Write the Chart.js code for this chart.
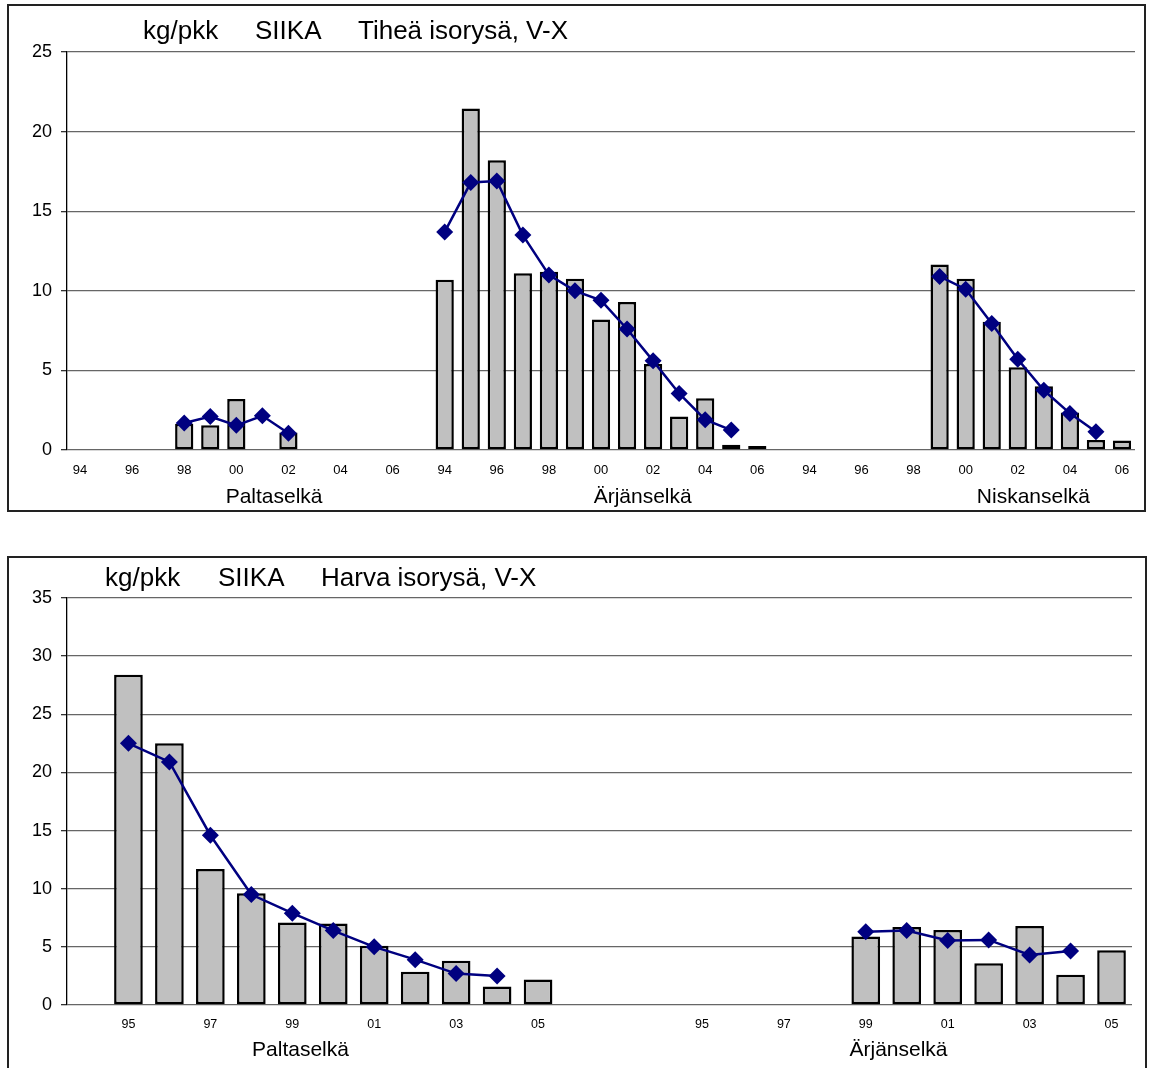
<!DOCTYPE html>
<html>
<head>
<meta charset="utf-8">
<script src="https://cdn.jsdelivr.net/npm/chart.js@4.4.1/dist/chart.umd.min.js"></script>
<style>
  body { margin: 0; background: #fff; overflow: hidden; width: 1151px; height: 1068px; position: relative;
         font-family: 'Liberation Sans', Arial, sans-serif; }
  .box { position: absolute; border: 2px solid #222; background: #fff; }
  .box canvas { position: absolute; left: 0; top: 0; }
  .ttl { position: absolute; font-size: 26px; line-height: 30px; color: #000; white-space: nowrap; }
</style>
</head>
<body>

<div class="box" id="box1" style="left:7px; top:4px; width:1135px; height:504px;">
  <canvas id="chart1" width="1135" height="504"></canvas>
</div>
<span class="ttl" style="left:143px; top:15px;">kg/pkk</span>
<span class="ttl" style="left:255px; top:15px;">SIIKA</span>
<span class="ttl" style="left:358px; top:15px;">Tiheä isorysä, V-X</span>

<div class="box" id="box2" style="left:7px; top:556px; width:1136px; height:530px;">
  <canvas id="chart2" width="1136" height="510"></canvas>
</div>
<span class="ttl" style="left:105px; top:562px;">kg/pkk</span>
<span class="ttl" style="left:218px; top:562px;">SIIKA</span>
<span class="ttl" style="left:321px; top:562px;">Harva isorysä, V-X</span>

<script>
// --- data: upper chart (Tiheä isorysä), years 94..06 per area ---
var years = ['94','95','96','97','98','99','00','01','02','03','04','05','06'];
var tickLabels1 = ['94','','96','','98','','00','','02','','04','','06'];
var areas1 = ['Paltaselkä', 'Ärjänselkä', 'Niskanselkä'];

var paltaBars1 = [null, null, null, null, 1.65, 1.55, 3.2, null, 1.1, null, null, null, null];
var paltaLine1 = [null, null, null, null, 1.7, 2.1, 1.55, 2.15, 1.05, null, null, null, null];
var arjaBars1  = [10.7, 21.45, 18.2, 11.1, 11.2, 10.75, 8.2, 9.3, 5.4, 2.1, 3.25, 0.33, 0.25];
var arjaLine1  = [13.7, 16.8, 16.9, 13.5, 11.0, 10.0, 9.4, 7.6, 5.6, 3.55, 1.9, 1.25, null];
var niskaBars1 = [null, null, null, null, null, 11.65, 10.75, 8.05, 5.2, 4.0, 2.35, 0.63, 0.6];
var niskaLine1 = [null, null, null, null, null, 10.9, 10.1, 7.95, 5.7, 3.75, 2.3, 1.15, null];

// --- data: lower chart (Harva isorysä) ---
var tickLabels2a = ['','95','','97','','99','','01','','03','','05',''];
var tickLabels2b = ['','95','','97','','99','','01','','03','','05'];
var areas2 = ['Paltaselkä', 'Ärjänselkä'];

var paltaBars2 = [null, 28.4, 22.5, 11.7, 9.6, 7.1, 7.0, 5.1, 2.85, 3.8, 1.6, 2.2, null];
var paltaLine2 = [null, 22.5, 20.9, 14.6, 9.5, 7.9, 6.4, 5.0, 3.9, 2.7, 2.5, null, null];
var arjaBars2  = [null, null, null, null, null, 5.9, 6.7, 6.45, 3.6, 6.8, 2.6, 4.7];
var arjaLine2  = [null, null, null, null, null, 6.3, 6.4, 5.55, 5.6, 4.3, 4.65, null];

var FONT = "'Liberation Sans', Arial, sans-serif";

// join the area groups with one empty category in between
function joinGroups(groups) {
    var out = [];
    groups.forEach(function(g, i) {
        if (i > 0) out.push(null);
        out = out.concat(g);
    });
    return out;
}
function joinLabels(groups) {
    return joinGroups(groups).map(function(v) { return v === null ? '' : v; });
}

// draws the area names under the year labels
var groupLabelPlugin = {
    id: 'groupLabels',
    afterDraw: function(chart, args, opts) {
        var ctx = chart.ctx;
        var xs = chart.scales.x;
        ctx.save();
        ctx.font = opts.size + 'px ' + FONT;
        ctx.fillStyle = '#000';
        ctx.textAlign = 'center';
        ctx.textBaseline = 'middle';
        opts.names.forEach(function(name, i) {
            var x = xs.getPixelForValue(opts.at[i]);
            ctx.fillText(name, x, opts.y);
        });
        ctx.restore();
    }
};

function makeChart(id, labels, bars, line, yMax, cfg) {
    var ctx = document.getElementById(id).getContext('2d');
    return new Chart(ctx, {
        type: 'bar',
        data: {
            labels: labels,
            datasets: [{
                type: 'line',
                data: line,
                borderColor: '#000080',
                backgroundColor: '#000080',
                borderWidth: 2.5,
                pointStyle: 'rectRot',
                pointRadius: 8.5,
                pointBorderWidth: 0,
                spanGaps: false,
                tension: 0,
                order: 0
            }, {
                type: 'bar',
                data: bars,
                backgroundColor: '#c0c0c0',
                borderColor: '#000',
                borderWidth: 2.5,
                borderSkipped: false,
                categoryPercentage: 1,
                barPercentage: 0.7,
                order: 1
            }]
        },
        options: {
            responsive: false,
            animation: false,
            devicePixelRatio: 1,
            layout: { padding: { top: cfg.padTop, right: cfg.padRight, left: 0, bottom: 0 } },
            plugins: {
                legend: { display: false },
                tooltip: { enabled: false },
                groupLabels: { names: cfg.names, at: cfg.at, y: cfg.groupY, size: 21 }
            },
            scales: {
                x: {
                    grid: { display: false, drawTicks: false },
                    border: { display: false },
                    ticks: {
                        autoSkip: false,
                        maxRotation: 0,
                        padding: cfg.xPad,
                        color: '#000',
                        font: { family: FONT, size: cfg.xFont }
                    },
                    afterFit: function(scale) { scale.height = cfg.xHeight; }
                },
                y: {
                    min: 0,
                    max: yMax,
                    ticks: {
                        stepSize: 5,
                        padding: 9,
                        color: '#000',
                        font: { family: FONT, size: 18 }
                    },
                    grid: { color: '#666', lineWidth: 1.3, tickLength: 6, tickColor: '#333' },
                    border: { display: true, color: '#000', width: 1.3 },
                    afterFit: function(scale) { scale.width = 58; }
                }
            }
        },
        plugins: [groupLabelPlugin]
    });
}

makeChart('chart1',
    joinLabels([tickLabels1, tickLabels1, tickLabels1]),
    joinGroups([paltaBars1, arjaBars1, niskaBars1]),
    joinGroups([paltaLine1, arjaLine1, niskaLine1]),
    25,
    { padTop: 46, padRight: 9, xHeight: 60, xPad: 13, xFont: 13,
      names: areas1, at: [7.45, 21.6, 36.6], groupY: 491 });

makeChart('chart2',
    joinLabels([tickLabels2a, tickLabels2b]),
    joinGroups([paltaBars2, arjaBars2]),
    joinGroups([paltaLine2, arjaLine2]),
    35,
    { padTop: 40, padRight: 13, xHeight: 63, xPad: 12.5, xFont: 12.5,
      names: areas2, at: [5.2, 19.8], groupY: 492 });
</script>
</body>
</html>
